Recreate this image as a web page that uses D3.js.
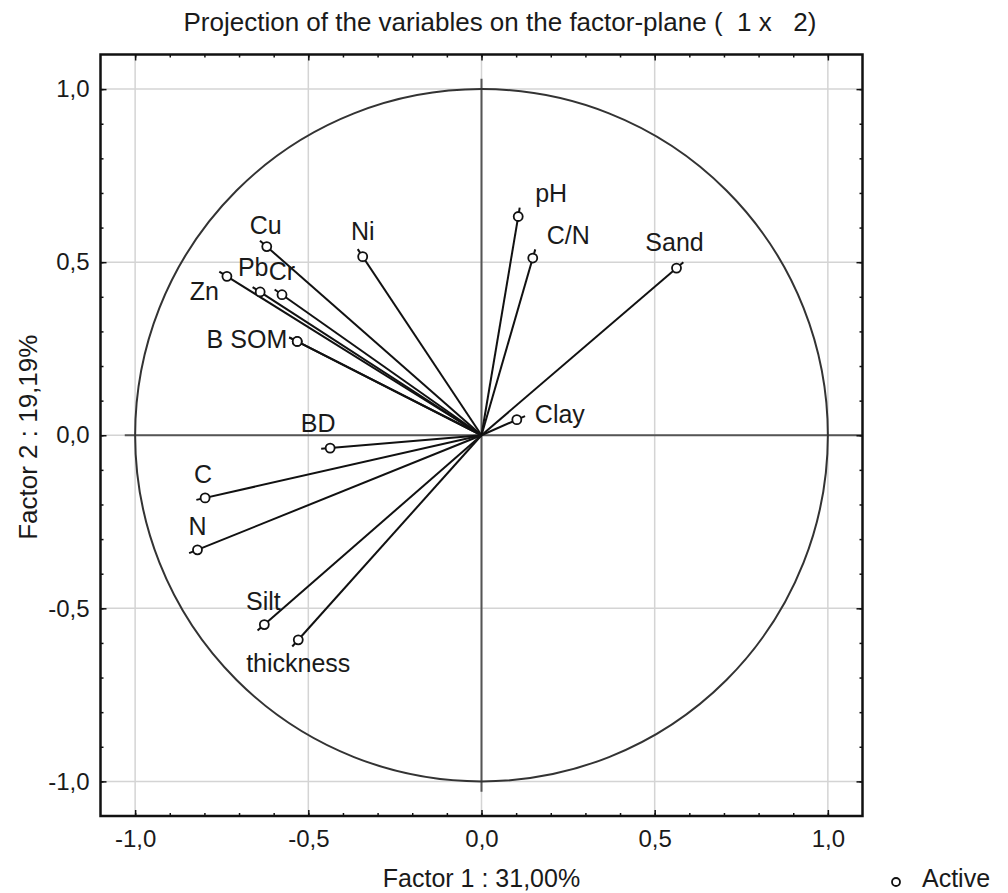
<!DOCTYPE html>
<html>
<head>
<meta charset="utf-8">
<script src="https://cdn.jsdelivr.net/npm/d3@7"></script>
<style>
  body { margin: 0; background: #fff; }
  svg text { font-family: "Liberation Sans", Arial, sans-serif; fill: #1a1a1a; }
</style>
</head>
<body>
<div id="plot"></div>
<script>
// Variable loadings
const variables = ["pH", "C/N", "Sand", "Clay", "Ni", "Cu", "Zn", "Pb", "Cr", "B", "SOM", "BD", "C", "N", "Silt", "thickness"];
const factor1 = [0.106, 0.148, 0.563, 0.102, -0.343, -0.620, -0.735, -0.639, -0.576, -0.532, -0.532, -0.437, -0.798, -0.820, -0.627, -0.529];
const factor2 = [0.632, 0.512, 0.483, 0.045, 0.516, 0.545, 0.459, 0.414, 0.406, 0.271, 0.271, -0.037, -0.181, -0.331, -0.547, -0.591];

const tickValues = [-1, -0.5, 0, 0.5, 1];
const tickLabels = ["-1,0", "-0,5", "0,0", "0,5", "1,0"];
const minorTicks = d3.range(-10, 11).map(d => d / 10);

const title = "Projection of the variables on the factor-plane (\u00a0 1 x \u00a0 2)";
const xTitle = "Factor 1 : 31,00%";
const yTitle = "Factor 2 : 19,19%";
const legendLabel = "Active";

// label placement (pixels, relative to the point)
const labelPos = {
  "pH": [17, -14, "start"],
  "C/N": [14, -14, "start"],
  "Sand": [-2, -17, "middle"],
  "Clay": [18, 3, "start"],
  "Ni": [0, -17, "middle"],
  "Cu": [-1, -13, "middle"],
  "Zn": [-8, 24, "end"],
  "Pb": [-7, -16, "middle"],
  "Cr": [0, -15, "middle"],
  "B": [-74, 7, "end"],
  "SOM": [-10, 7, "end"],
  "BD": [-12, -16, "middle"],
  "C": [-2, -15, "middle"],
  "N": [0, -15, "middle"],
  "Silt": [-1, -15, "middle"],
  "thickness": [0, 32, "middle"]
};

const width = 1008, height = 893;
const margin = { top: 54.5, bottom: 77, left: 100.5, right: 145.5 };

const svg = d3.select('#plot')
  .append('svg')
  .attr('width', width)
  .attr('height', height);

const x = d3.scaleLinear()
  .domain([-1.1, 1.1])
  .range([margin.left, width - margin.right]);

const y = d3.scaleLinear()
  .domain([-1.1, 1.1])
  .range([height - margin.bottom, margin.top]);

const x0 = margin.left, x1 = width - margin.right;
const y0 = height - margin.bottom, y1 = margin.top;

// grid lines
const gridVals = [-1, -0.5, 0, 0.5, 1];
svg.append('g')
  .selectAll('line')
  .data(gridVals)
  .join('line')
  .attr('x1', d => x(d)).attr('x2', d => x(d))
  .attr('y1', y0).attr('y2', y1)
  .attr('stroke', '#d4d4d4').attr('stroke-width', 1.5);
svg.append('g')
  .selectAll('line')
  .data(gridVals)
  .join('line')
  .attr('y1', d => y(d)).attr('y2', d => y(d))
  .attr('x1', x0).attr('x2', x1)
  .attr('stroke', '#d4d4d4').attr('stroke-width', 1.5);

// zero lines
svg.append('line')
  .attr('x1', x(-1.03)).attr('x2', x1)
  .attr('y1', y(0)).attr('y2', y(0))
  .attr('stroke', '#555').attr('stroke-width', 2);
svg.append('line')
  .attr('x1', x(0)).attr('x2', x(0))
  .attr('y1', y(1.03)).attr('y2', y(-1.03))
  .attr('stroke', '#555').attr('stroke-width', 2);

// unit circle
svg.append('ellipse')
  .attr('cx', x(0)).attr('cy', y(0))
  .attr('rx', x(1) - x(0)).attr('ry', y(0) - y(1))
  .attr('fill', 'none')
  .attr('stroke', '#333')
  .attr('stroke-width', 2);

// axes: inward ticks on all sides
const fmt = d => tickLabels[tickValues.indexOf(d)];

svg.append('g')
  .attr('transform', `translate(0,${y0})`)
  .call(d3.axisBottom(x).tickValues(tickValues).tickSize(-6).tickPadding(14).tickFormat(fmt));
svg.append('g')
  .attr('transform', `translate(0,${y0})`)
  .call(d3.axisBottom(x).tickValues(minorTicks).tickSize(-3).tickFormat(''));
svg.append('g')
  .attr('transform', `translate(${x0},0)`)
  .call(d3.axisLeft(y).tickValues(tickValues).tickSize(-6).tickPadding(11).tickFormat(fmt));
svg.append('g')
  .attr('transform', `translate(${x0},0)`)
  .call(d3.axisLeft(y).tickValues(minorTicks).tickSize(-3).tickFormat(''));
svg.append('g')
  .attr('transform', `translate(0,${y1})`)
  .call(d3.axisTop(x).tickValues(tickValues).tickSize(-6).tickFormat(''));
svg.append('g')
  .attr('transform', `translate(0,${y1})`)
  .call(d3.axisTop(x).tickValues(minorTicks).tickSize(-3).tickFormat(''));
svg.append('g')
  .attr('transform', `translate(${x1},0)`)
  .call(d3.axisRight(y).tickValues(tickValues).tickSize(-6).tickFormat(''));
svg.append('g')
  .attr('transform', `translate(${x1},0)`)
  .call(d3.axisRight(y).tickValues(minorTicks).tickSize(-3).tickFormat(''));

svg.selectAll('.domain').remove();
svg.selectAll('.tick line').attr('stroke', '#111').attr('stroke-width', 1.5);
svg.selectAll('.tick text')
  .style('font-family', '"Liberation Sans", Arial, sans-serif')
  .style('font-size', '24px')
  .attr('fill', '#1a1a1a');

// frame
svg.append('rect')
  .attr('x', x0).attr('y', y1)
  .attr('width', x1 - x0).attr('height', y0 - y1)
  .attr('fill', 'none')
  .attr('stroke', '#111')
  .attr('stroke-width', 2.5);

// vectors
const pts = variables.map((name, i) => ({ name, f1: factor1[i], f2: factor2[i] }));

svg.append('g')
  .selectAll('line')
  .data(pts)
  .join('line')
  .attr('x1', x(0)).attr('y1', y(0))
  .attr('x2', d => {
    const dx = x(d.f1) - x(0), dy = y(d.f2) - y(0);
    return x(d.f1) + dx / Math.hypot(dx, dy) * 9;
  })
  .attr('y2', d => {
    const dx = x(d.f1) - x(0), dy = y(d.f2) - y(0);
    return y(d.f2) + dy / Math.hypot(dx, dy) * 9;
  })
  .attr('stroke', '#111')
  .attr('stroke-width', 2);

svg.append('g')
  .selectAll('circle')
  .data(pts)
  .join('circle')
  .attr('cx', d => x(d.f1))
  .attr('cy', d => y(d.f2))
  .attr('r', 4.5)
  .attr('fill', '#fff')
  .attr('stroke', '#111')
  .attr('stroke-width', 1.8);

svg.append('g')
  .selectAll('text')
  .data(pts)
  .join('text')
  .attr('x', d => x(d.f1) + labelPos[d.name][0])
  .attr('y', d => y(d.f2) + labelPos[d.name][1])
  .attr('text-anchor', d => labelPos[d.name][2])
  .style('font-size', '25px')
  .text(d => d.name);

// title
svg.append('text')
  .attr('x', 500)
  .attr('y', 31)
  .attr('text-anchor', 'middle')
  .style('font-size', '26px')
  .text(title);

// x-axis label
svg.append('text')
  .attr('x', x(0))
  .attr('y', 887)
  .attr('text-anchor', 'middle')
  .style('font-size', '25px')
  .text(xTitle);

// y-axis label
svg.append('text')
  .attr('transform', `translate(37,${y(0) + 2}) rotate(-90)`)
  .attr('text-anchor', 'middle')
  .style('font-size', '26px')
  .text(yTitle);

// legend
const legend = svg.append('g')
  .attr('transform', 'translate(896,882)');
legend.append('circle')
  .attr('r', 4)
  .attr('fill', '#fff')
  .attr('stroke', '#111')
  .attr('stroke-width', 1.8);
legend.append('text')
  .attr('x', 26)
  .attr('y', 5)
  .style('font-size', '25px')
  .text(legendLabel);
</script>
</body>
</html>
